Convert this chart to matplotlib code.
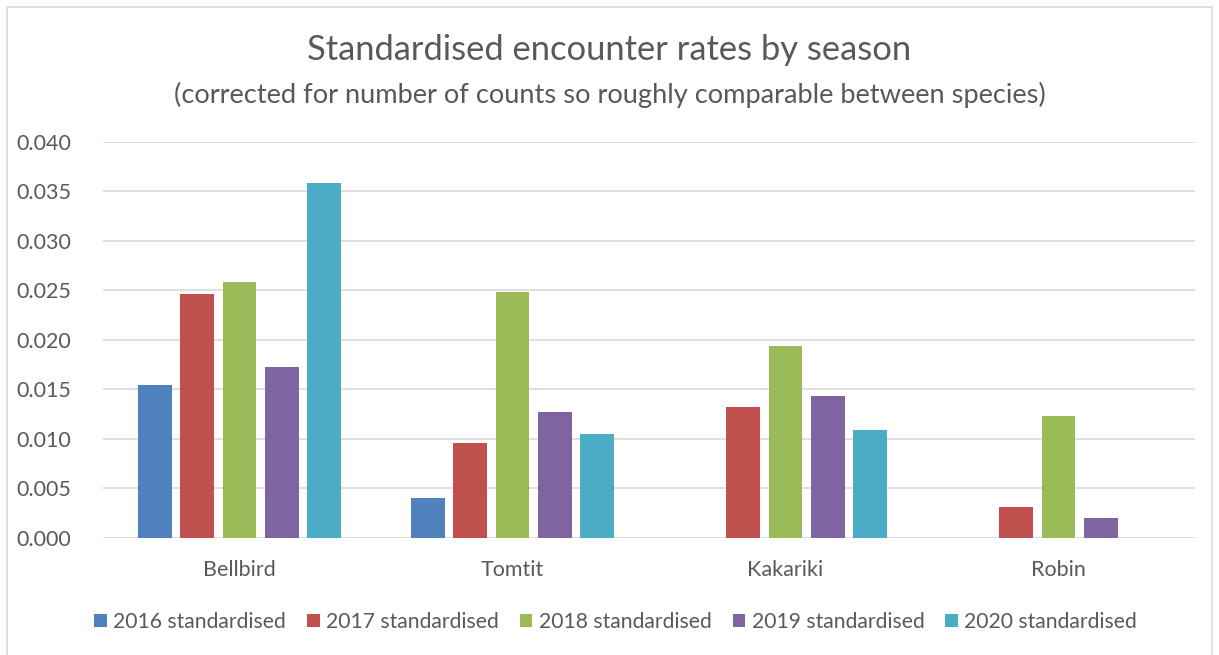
import numpy as np
import matplotlib.pyplot as plt
from matplotlib.patches import Rectangle

species = ["Bellbird", "Tomtit", "Kakariki", "Robin"]
series_labels = ["2016 standardised", "2017 standardised", "2018 standardised",
                 "2019 standardised", "2020 standardised"]
rates_2016 = [0.0154, 0.0040, 0.0, 0.0]
rates_2017 = [0.0246, 0.0096, 0.0132, 0.0031]
rates_2018 = [0.0258, 0.0248, 0.0194, 0.0123]
rates_2019 = [0.0173, 0.0127, 0.0143, 0.0020]
rates_2020 = [0.0358, 0.0105, 0.0109, 0.0]
colors = ["#4F81BD", "#C0504D", "#9BBB59", "#8064A2", "#4BACC6"]

plt.rcParams['font.family'] = ['Lato', 'DejaVu Sans']
text_col = "#595959"

fig = plt.figure(figsize=(12.19, 6.55), dpi=100)
ax = fig.add_axes([103 / 1219, 1 - 538 / 655, (1195 - 103) / 1219, (538 - 141.7) / 655])

x = np.arange(len(species))
step = 0.154
width = 0.1245
all_rates = [rates_2016, rates_2017, rates_2018, rates_2019, rates_2020]
for i, (vals, lab, c) in enumerate(zip(all_rates, series_labels, colors)):
    ax.bar(x + (i - 2) * step, vals, width, color=c, label=lab, zorder=3)

ax.set_xlim(-0.5, len(species) - 0.5)
ax.set_ylim(0, 0.040)
ax.set_yticks(np.arange(0, 0.0401, 0.005))
ax.set_yticklabels([f"{v:.3f}" for v in np.arange(0, 0.0401, 0.005)])
ax.set_xticks(x)
ax.set_xticklabels(species)
ax.tick_params(axis='both', length=0, labelsize=15.5, colors=text_col)
ax.tick_params(axis='y', pad=23)
ax.tick_params(axis='x', pad=16)
ax.grid(axis='y', color="#D9D9D9", linewidth=1.2, zorder=0)
for s in ax.spines.values():
    s.set_visible(False)

fig.text(0.5, 1 - 50 / 655, "Standardised encounter rates by season",
         ha='center', va='center', fontsize=24.8, color=text_col)
fig.text(0.5, 1 - 95 / 655,
         "(corrected for number of counts so roughly comparable between species)",
         ha='center', va='center', fontsize=19.6, color=text_col)

fig.legend(loc='center', bbox_to_anchor=(0.505, 1 - 622 / 655), ncol=5,
           frameon=False, fontsize=15.2, handlelength=0.6, handleheight=0.6,
           handletextpad=0.3, columnspacing=1.0, labelcolor=text_col)

fig.patches.append(Rectangle((7 / 1219, -0.01), (1212 - 7) / 1219, 1.0,
                             transform=fig.transFigure, fill=False,
                             edgecolor="#D9D9D9", linewidth=1.2))

fig.savefig("out.png", dpi=100)
